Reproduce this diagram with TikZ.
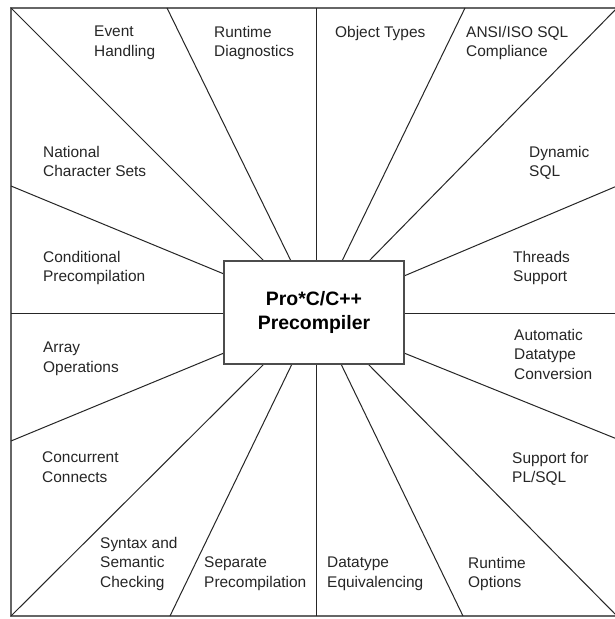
\documentclass[tikz,border=0pt]{standalone}
\usepackage{fontspec}
\setmainfont{Liberation Sans}
\begin{document}
\begin{tikzpicture}[x=1bp,y=-1bp,
  framestyle/.style={draw=black!60,line width=2bp},
  ray/.style={draw=black!85,line width=1bp},
  centerbox/.style={draw=black!70,line width=1.6bp,fill=white,minimum width=180bp,minimum height=103bp,inner sep=0pt,align=center,font=\fontsize{19.5}{24}\selectfont\bfseries},
  lbl/.style={anchor=north west,inner sep=0pt,align=left,font=\fontsize{15.5}{19.5}\selectfont,text=black!85}]
\useasboundingbox (0,0) rectangle (615,619);
\fill[white] (0,0) rectangle (615,619);
\begin{scope}
\clip (0,0) rectangle (615,619);
% frame corners and points
\coordinate (ftl) at (11,8);
\coordinate (ftr) at (617,8);
\coordinate (fbr) at (617,616);
\coordinate (fbl) at (11,616);
\draw[framestyle] (ftl) -- (ftr) -- (fbr) -- (fbl) -- cycle;
% center box
\node[centerbox] (box) at (314,312.5) {Pro*C/C++\\Precompiler};
% frame end points
\coordinate (t2) at (167,8);
\coordinate (t3) at (316,8);
\coordinate (t4) at (465,8);
\coordinate (r1) at (617,186);
\coordinate (r2) at (617,313);
\coordinate (r3) at (617,439);
\coordinate (b2) at (463,616);
\coordinate (b3) at (316,616);
\coordinate (b4) at (170,616);
\coordinate (l1) at (11,441);
\coordinate (l2) at (11,313);
\coordinate (l3) at (11,186);
% box end points
\coordinate (bt1) at (264,261);
\coordinate (bt2) at (291,261);
\coordinate (bt3) at (316,261);
\coordinate (bt4) at (342,261);
\coordinate (bt5) at (369,261);
\coordinate (br1) at (404,276);
\coordinate (br2) at (404,313);
\coordinate (br3) at (404,353);
\coordinate (bb1) at (368,364);
\coordinate (bb2) at (341,364);
\coordinate (bb3) at (316,364);
\coordinate (bb4) at (292,364);
\coordinate (bb5) at (264,364);
\coordinate (bl1) at (224,353);
\coordinate (bl2) at (224,313);
\coordinate (bl3) at (224,274);
% rays
\draw[ray] (ftl) -- (bt1);
\draw[ray] (t2) -- (bt2);
\draw[ray] (t3) -- (bt3);
\draw[ray] (t4) -- (bt4);
\draw[ray] (ftr) -- (bt5);
\draw[ray] (r1) -- (br1);
\draw[ray] (r2) -- (br2);
\draw[ray] (r3) -- (br3);
\draw[ray] (fbr) -- (bb1);
\draw[ray] (b2) -- (bb2);
\draw[ray] (b3) -- (bb3);
\draw[ray] (b4) -- (bb4);
\draw[ray] (fbl) -- (bb5);
\draw[ray] (l1) -- (bl1);
\draw[ray] (l2) -- (bl2);
\draw[ray] (l3) -- (bl3);
\node[centerbox] at (box) {Pro*C/C++\\Precompiler};
\end{scope}
% labels
\node[lbl] (ev) at (94,26) {Event\\Handling};
\node[lbl] (rd) at (214,26) {Runtime\\Diagnostics};
\node[lbl] (ot) at (335,26) {Object Types};
\node[lbl] (an) at (466,26) {ANSI/ISO SQL\\Compliance};
\node[lbl] (nc) at (43,146) {National\\Character Sets};
\node[lbl] (dy) at (529,146) {Dynamic\\SQL};
\node[lbl] (cp) at (43,251) {Conditional\\Precompilation};
\node[lbl] (th) at (513,251) {Threads\\Support};
\node[lbl] (ar) at (43,342) {Array\\Operations};
\node[lbl] (ad) at (514,329) {Automatic\\Datatype\\Conversion};
\node[lbl] (cc) at (42,452) {Concurrent\\Connects};
\node[lbl] (pl) at (512,452) {Support for\\PL/SQL};
\node[lbl] (sy) at (100,537) {Syntax and\\Semantic\\Checking};
\node[lbl] (sp) at (204,557) {Separate\\Precompilation};
\node[lbl] (de) at (327,557) {Datatype\\Equivalencing};
\node[lbl] (ro) at (468,557) {Runtime\\Options};
\end{tikzpicture}
\end{document}
